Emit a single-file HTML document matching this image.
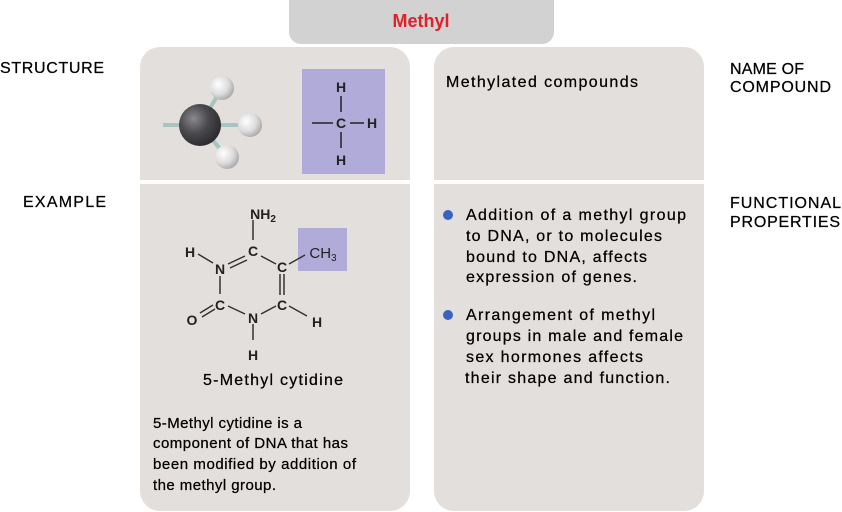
<!DOCTYPE html>
<html><head><meta charset="utf-8"><style>html,body{margin:0;padding:0;background:#fff}svg{display:block}</style></head>
<body>
<svg width="842" height="512" viewBox="0 0 842 512" xmlns="http://www.w3.org/2000/svg" font-family="'Liberation Sans', Arial, sans-serif">
<defs>
<radialGradient id="cg" cx="0.35" cy="0.35" r="0.7"><stop offset="0" stop-color="#8a8a8e"/><stop offset="0.5" stop-color="#4a4a4e"/><stop offset="1" stop-color="#2a2a2e"/></radialGradient>
<radialGradient id="hg" cx="0.35" cy="0.35" r="0.7"><stop offset="0" stop-color="#ffffff"/><stop offset="0.6" stop-color="#dcdcdc"/><stop offset="1" stop-color="#a8a8a8"/></radialGradient>
</defs>
<rect x="289" y="-12" width="265" height="56" rx="12" fill="#d2d2d2"/>
<text x="421" y="27" text-anchor="middle" font-size="18" font-weight="bold" fill="#e0202a">Methyl</text>
<rect x="140" y="47" width="270" height="464" rx="20" fill="#e2dfdc"/>
<rect x="434" y="47" width="270" height="464" rx="20" fill="#e2dfdc"/>
<rect x="140" y="180" width="564" height="4" fill="#fff"/>
<g font-size="16" fill="#000" stroke="#000" stroke-width="0.25">
<text x="0" y="73" textLength="104">STRUCTURE</text>
<text x="23" y="207" textLength="83">EXAMPLE</text>
<text x="730" y="74" textLength="74">NAME OF</text>
<text x="730" y="92" textLength="101">COMPOUND</text>
<text x="730" y="208" textLength="111">FUNCTIONAL</text>
<text x="730" y="227" textLength="110">PROPERTIES</text>
<text x="446" y="87" textLength="192">Methylated compounds</text>
<text x="466" y="220" textLength="220">Addition of a methyl group</text>
<text x="466" y="241" textLength="196">to DNA, or to molecules</text>
<text x="466" y="262" textLength="181">bound to DNA, affects</text>
<text x="466" y="282" textLength="171">expression of genes.</text>
<text x="466" y="320" textLength="189">Arrangement of methyl</text>
<text x="466" y="341" textLength="217">groups in male and female</text>
<text x="466" y="362" textLength="177">sex hormones affects</text>
<text x="465" y="383" textLength="205">their shape and function.</text>
<text x="203" y="385" textLength="140">5-Methyl cytidine</text>
</g>
<g font-size="15" fill="#000" stroke="#000" stroke-width="0.25">
<text x="153" y="428" textLength="149">5-Methyl cytidine is a</text>
<text x="153" y="448" textLength="195">component of DNA that has</text>
<text x="153" y="469" textLength="203">been modified by addition of</text>
<text x="153" y="490" textLength="123">the methyl group.</text>
</g>
<circle cx="448" cy="215" r="5" fill="#3a62c0"/>
<circle cx="448" cy="315" r="5" fill="#3a62c0"/>
<g stroke="#a8c4c0" stroke-width="4">
<line x1="163" y1="125" x2="200" y2="125"/>
<line x1="200" y1="125" x2="250" y2="125"/>
<line x1="200" y1="125" x2="222" y2="88"/>
<line x1="200" y1="125" x2="227" y2="157"/>
</g>
<circle cx="222" cy="88" r="12" fill="url(#hg)"/>
<circle cx="200" cy="125" r="21" fill="url(#cg)"/>
<circle cx="250" cy="125" r="12" fill="url(#hg)"/>
<circle cx="227" cy="157" r="12" fill="url(#hg)"/>
<rect x="302" y="69" width="83" height="105" fill="#b0abd8"/>
<g font-size="14" font-weight="bold" fill="#222" text-anchor="middle">
<text x="341" y="92">H</text><text x="341" y="128">C</text><text x="372" y="128">H</text><text x="341" y="165">H</text>
</g>
<g stroke="#222" stroke-width="1.5">
<line x1="341" y1="96" x2="341" y2="112"/><line x1="341" y1="132" x2="341" y2="148"/>
<line x1="312" y1="123" x2="333" y2="123"/><line x1="350" y1="123" x2="364" y2="123"/>
</g>
<rect x="298" y="228" width="49" height="43" fill="#b0abd8"/>
<g stroke="#333" stroke-width="1.5" fill="none">
<line x1="253" y1="220" x2="253" y2="240"/>
<line x1="245" y1="256" x2="228" y2="264"/><line x1="247" y1="260" x2="230" y2="268"/>
<line x1="261" y1="256" x2="276" y2="264"/>
<line x1="289" y1="264" x2="305" y2="255"/>
<line x1="198" y1="254" x2="213" y2="263"/>
<line x1="220" y1="276" x2="220" y2="294"/>
<line x1="280" y1="274" x2="280" y2="295"/><line x1="284" y1="274" x2="284" y2="295"/>
<line x1="228" y1="306" x2="245" y2="314"/>
<line x1="261" y1="314" x2="276" y2="306"/>
<line x1="289" y1="306" x2="307" y2="316"/>
<line x1="200" y1="313" x2="213" y2="305"/><line x1="202" y1="317" x2="215" y2="309"/>
<line x1="253" y1="324" x2="253" y2="340"/>
</g>
<g font-size="14" font-weight="bold" fill="#222" text-anchor="middle">
<text x="263" y="219">NH<tspan font-size="10" dy="3">2</tspan></text>
<text x="253" y="256">C</text><text x="220" y="274">N</text><text x="282" y="272">C</text>
<text x="190" y="257">H</text><text x="220" y="310">C</text><text x="282" y="310">C</text>
<text x="253" y="323">N</text><text x="317" y="327">H</text><text x="192" y="325">O</text>
<text x="253" y="360">H</text>
<text x="323" y="258" font-weight="normal" font-size="15">CH<tspan font-size="10" dy="3">3</tspan></text>
</g>
</svg>
</body></html>
